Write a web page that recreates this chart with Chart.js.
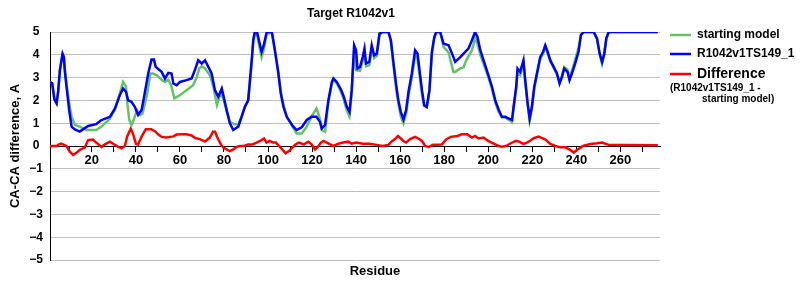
<!DOCTYPE html>
<html>
<head>
<meta charset="utf-8">
<script src="https://cdn.jsdelivr.net/npm/chart.js@4/dist/chart.umd.min.js"></script>
<style>
	body { margin: 0; background: #fff; }
	#wrap { width: 800px; height: 300px; position: relative; }
</style>
</head>
<body>
<div id="wrap"><canvas id="chart"></canvas></div>
<script>
// values
const startRes = [ 1, 2, 3, 4, 4.7, 5.5, 6.7, 7.3, 7.7, 8.5, 9.7, 10.8, 12.3, 14.5, 17.6, 22, 24.4, 28.2, 30.5, 32.7, 34.2, 35.5, 36.2, 37, 38, 39, 40.5, 42, 43, 45, 46.6, 47.8, 49.6, 51.7, 53.2, 54.7, 56, 57.5, 60, 63, 66, 67.6, 68.8, 69.9, 71.4, 73.6, 75.2, 76.8, 78.4, 79.7, 81.2, 82.7, 85, 86.5, 88, 89.5, 91, 91.8, 92.6, 93.3, 94, 95, 96.4, 97.1, 98, 99.4, 101.7, 102.4, 103.6, 104.7, 105.8, 107, 108.5, 110.7, 113, 115.3, 117.6, 119.8, 122, 123.6, 124.4, 125.9, 127.4, 129, 129.7, 131.2, 133, 134.2, 135.7, 137, 138, 139.1, 140, 141.8, 143, 143.8, 144.5, 146, 147.1, 148.2, 149.4, 150.6, 152, 154.7, 155.8, 157, 158.2, 159.2, 160.3, 161.5, 162.7, 163.8, 165.3, 166.8, 167.9, 168.8, 169.9, 170.9, 172.1, 173.3, 174.4, 175.5, 176.4, 178.2, 179.7, 182, 184.2, 185, 187.3, 188.8, 190, 192.6, 194, 195.1, 196.4, 197.9, 200.1, 201.7, 203.2, 204.7, 206.2, 207.7, 209.2, 210.8, 211.5, 212.7, 213.3, 214.5, 216, 216.8, 217.9, 218.8, 219.8, 220.9, 222.1, 223.6, 224.9, 225.9, 227, 228.2, 229.7, 231.2, 232.4, 233.5, 234.5, 236, 236.9, 238, 239.5, 241, 242.1, 243.3, 247.9, 249.4, 250.6, 251.7, 252.7, 253.6, 254.7, 277 ];
const startVal = [ 2.8, 2.75, 2.05, 1.87, 2.38, 3.33, 4.0, 3.9, 3.4, 2.7, 1.9, 1.28, 0.93, 0.85, 0.7, 0.7, 0.85, 1.2, 1.6, 2.3, 2.81, 2.6, 1.8, 1.14, 0.92, 1.14, 1.58, 1.36, 1.43, 2.23, 3.18, 3.18, 3.1, 2.9, 2.81, 2.9, 2.67, 2.09, 2.23, 2.45, 2.67, 3.0, 3.4, 3.5, 3.4, 3.1, 2.6, 1.8, 2.3, 2.1, 1.55, 1.05, 0.95, 0.95, 1.3, 1.72, 2.0, 2.8, 3.7, 4.55, 4.95, 4.9, 4.2, 3.9, 4.2, 4.9, 5, 4.6, 3.9, 3.25, 2.4, 1.8, 1.3, 0.92, 0.55, 0.55, 0.85, 1.3, 1.65, 1.2, 0.7, 0.62, 1.9, 2.75, 2.9, 2.75, 2.4, 2.1, 1.58, 1.3, 2.3, 4.2, 3.33, 3.3, 3.75, 4.1, 3.5, 3.55, 4.3, 3.85, 3.95, 4.85, 5, 5, 4.55, 3.5, 2.5, 1.85, 1.3, 1.0, 1.4, 2.2, 3.0, 3.95, 3.8, 3.1, 2.3, 1.75, 1.7, 2.4, 4.0, 4.7, 5, 5, 4.35, 4.1, 3.25, 3.25, 3.4, 3.45, 3.76, 4.2, 4.71, 4.5, 4.0, 3.6, 3.0, 2.5, 1.9, 1.5, 1.25, 1.25, 1.15, 1.05, 1.6, 2.5, 3.2, 3.1, 3.6, 2.8, 1.8, 1.1, 1.6, 2.5, 3.1, 3.8, 4.05, 4.35, 4.05, 3.7, 3.45, 3.15, 2.8, 3.1, 3.45, 3.35, 3.0, 3.3, 3.8, 4.3, 4.9, 5, 5, 4.71, 4.05, 3.6, 4.0, 4.71, 5, 5 ];

const modelRes = [ 1, 2, 3, 4, 4.7, 5.5, 6.7, 7.3, 7.7, 8.5, 9.7, 10.8, 12.3, 14.5, 16, 18.3, 22, 24.4, 28.2, 30.5, 32.7, 34.2, 35.5, 36.5, 38, 39.5, 41, 42.6, 44, 45.6, 47.1, 48.2, 49, 51.7, 53.2, 54.7, 56.2, 57, 58.5, 60, 63, 65.3, 66.8, 68.3, 69.9, 71.4, 72.9, 74.4, 75.9, 77.4, 79, 79.7, 81.2, 82.7, 84.2, 86.5, 88, 89.5, 91, 91.8, 92.6, 93.3, 94, 95, 96.4, 97.1, 98, 99.4, 101.7, 102.4, 103.6, 104.7, 105.8, 107, 108.5, 110, 111.5, 113, 115.3, 117.6, 119.8, 122, 123.6, 124.4, 125.9, 127.4, 129, 129.7, 131.2, 133, 134.2, 135.8, 137, 138, 139.1, 140, 140.6, 141.8, 143, 143.8, 144.5, 146, 147.1, 148.2, 149.4, 150.6, 152, 154.7, 155.8, 157, 158.2, 159.2, 160.3, 161.5, 162.7, 163.8, 165.3, 166.8, 167.9, 168.8, 169.9, 170.9, 172.1, 173.3, 174.4, 175.5, 176.4, 178.2, 179.7, 182, 184.2, 185, 187.3, 188.8, 191, 192.6, 194, 195.1, 196.4, 197.9, 200.1, 201.7, 203.2, 204.7, 206.2, 207.7, 209.2, 210.8, 211.5, 212.7, 213.3, 214.5, 216, 216.8, 217.9, 218.8, 219.8, 220.9, 222.1, 223.6, 224.9, 225.9, 227, 228.2, 229.7, 231.2, 232.4, 233.5, 234.5, 236, 236.9, 238, 239.5, 241, 242.1, 243.3, 247.9, 249.4, 250.6, 251.7, 252.7, 253.6, 254.7, 277 ];
const modelVal = [ 2.8, 2.75, 2.05, 1.87, 2.38, 3.33, 4.05, 3.9, 3.33, 2.6, 1.58, 0.85, 0.73, 0.63, 0.73, 0.88, 0.96, 1.14, 1.28, 1.65, 2.23, 2.52, 2.38, 2.0, 1.94, 1.72, 1.36, 1.58, 2.3, 3.18, 3.79, 3.79, 3.47, 3.25, 2.96, 3.21, 3.18, 2.74, 2.67, 2.81, 2.89, 2.96, 3.33, 3.76, 3.62, 3.76, 3.47, 3.18, 2.45, 2.16, 2.52, 2.23, 1.58, 0.99, 0.7, 0.85, 1.28, 1.72, 2.0, 2.89, 3.76, 4.64, 5, 5, 4.42, 4.13, 4.4, 5, 5, 4.64, 3.9, 3.18, 2.3, 1.72, 1.28, 1.06, 0.85, 0.7, 0.82, 1.14, 1.28, 1.28, 1.06, 0.77, 0.92, 2.0, 2.81, 2.96, 2.81, 2.5, 2.23, 1.72, 1.5, 2.45, 4.42, 4.2, 3.4, 3.47, 3.9, 4.27, 3.62, 3.69, 4.42, 3.98, 4.05, 4.93, 5, 5, 4.64, 3.62, 2.67, 2.0, 1.5, 1.17, 1.58, 2.38, 3.18, 4.2, 4.05, 3.33, 2.45, 1.8, 1.72, 2.45, 4.13, 4.78, 5, 5, 4.49, 4.42, 3.9, 3.69, 3.9, 4.05, 4.27, 4.64, 5, 4.78, 4.2, 3.76, 3.1, 2.6, 2.0, 1.6, 1.28, 1.28, 1.21, 1.14, 1.72, 2.6, 3.4, 3.25, 3.76, 2.89, 1.87, 1.21, 1.72, 2.6, 3.18, 3.9, 4.13, 4.42, 4.13, 3.76, 3.47, 3.18, 2.74, 3.03, 3.4, 3.25, 2.89, 3.18, 3.62, 4.13, 4.86, 5, 5, 4.71, 4.05, 3.69, 4.05, 4.71, 5, 5 ];

const diffRes = [ 1, 4, 4.7, 6, 8.5, 10, 11.5, 13, 14.5, 16.8, 18.3, 20.5, 22, 24.4, 25.9, 28.2, 29.7, 32, 33.5, 35, 36, 37.7, 38.9, 40, 41, 42.6, 44.5, 47, 48.8, 50.2, 51.7, 54, 57, 58.5, 60.8, 63, 65.3, 67, 69, 71.4, 73.6, 75, 76, 77, 78.6, 79.7, 81.2, 82.7, 84.2, 85.8, 87.2, 89, 91, 93, 94.8, 96.4, 98.2, 99.3, 100.8, 102.3, 103.6, 105, 106.5, 108, 109.5, 111, 112.5, 114, 116.3, 118.3, 119.8, 121.3, 122.4, 124, 125.2, 126.7, 128.2, 129.7, 132, 134, 136.5, 138, 140, 143, 146, 149.4, 152, 154.7, 156, 157.7, 159, 160.3, 161.5, 162.7, 164.5, 166.8, 168.3, 169.9, 171.4, 172.9, 175, 177.5, 179, 181, 183, 186, 188, 190.5, 192.6, 194, 195.6, 197.9, 200, 202.5, 204.7, 206.2, 208, 210.3, 212.5, 214, 216, 217.6, 219, 220.6, 222.9, 226, 228.2, 230.5, 232.7, 235, 237.2, 238.8, 240, 241.5, 243, 246.4, 249.4, 251.7, 255, 263, 277 ];
const diffVal = [ 0, 0, 0.05, 0.1, 0, -0.25, -0.39, -0.3, -0.17, -0.07, 0.26, 0.28, 0.15, -0.04, 0.07, 0.19, 0.1, -0.04, -0.1, 0, 0.41, 0.77, 0.48, 0.1, 0.07, 0.41, 0.74, 0.74, 0.64, 0.5, 0.4, 0.37, 0.42, 0.5, 0.51, 0.51, 0.46, 0.35, 0.3, 0.2, 0.37, 0.63, 0.63, 0.37, 0.07, -0.07, -0.15, -0.22, -0.15, -0.04, 0, 0, 0.07, 0.07, 0.15, 0.22, 0.33, 0.15, 0.22, 0.15, 0.15, 0, -0.15, -0.32, -0.22, -0.07, 0.07, 0.15, 0.07, 0.19, 0.07, -0.15, -0.07, 0.15, 0.22, 0.15, 0.07, 0, 0.1, 0.15, 0.19, 0.1, 0.15, 0.1, 0.1, 0.05, 0, 0.05, 0.19, 0.3, 0.44, 0.33, 0.22, 0.15, 0.3, 0.4, 0.33, 0.22, 0, -0.04, 0.05, 0.05, 0.07, 0.3, 0.4, 0.44, 0.51, 0.51, 0.37, 0.44, 0.33, 0.37, 0.22, 0.1, 0, -0.03, 0, 0.12, 0.23, 0.19, 0.09, 0.15, 0.23, 0.34, 0.41, 0.28, 0.09, 0, -0.06, -0.06, -0.17, -0.29, -0.2, -0.1, 0, 0.09, 0.12, 0.15, 0.04, 0.04, 0.03 ];

const xTicks = [ 10, 20, 30, 40, 50, 60, 70, 80, 90, 100, 110, 120, 130, 140, 150, 160, 170, 180, 190, 200, 210, 220, 230, 240, 250, 260, 270 ];

const FONT = '"Liberation Sans", Arial, sans-serif';

const pts = ( xs, ys ) => xs.map( ( x, i ) => ( { x, y: ys[ i ] } ) );

// title, x axis name and legend drawn on top of the chart
const extras = {
	id: 'extras',
	afterDraw( chart ) {
		const ctx = chart.ctx;
		ctx.save();
		ctx.fillStyle = '#000';
		ctx.textBaseline = 'middle';
		ctx.textAlign = 'center';
		ctx.font = 'bold 12px ' + FONT;
		ctx.fillText( 'Target R1042v1', 351, 14 );
		ctx.font = 'bold 13px ' + FONT;
		ctx.fillText( 'Residue', 375, 271 );

		ctx.textAlign = 'left';
		const items = [
			[ '#66c266', 'starting model', 35 ],
			[ '#0000ff', 'R1042v1TS149_1', 54 ],
			[ '#ff0000', 'Difference', 74 ],
		];
		items.forEach( ( [ color, label, y ] ) => {
			ctx.strokeStyle = color;
			ctx.lineWidth = 2.5;
			ctx.beginPath();
			ctx.moveTo( 670, y );
			ctx.lineTo( 691, y );
			ctx.stroke();
			ctx.fillStyle = '#000';
			ctx.font = ( label === 'Difference' ? 'bold 14px ' : 'bold 12px ' ) + FONT;
			ctx.fillText( label, 697, y );
		} );
		ctx.font = 'bold 10px ' + FONT;
		ctx.fillText( '(R1042v1TS149_1 -', 670, 88 );
		ctx.fillText( 'starting model)', 702, 99 );
		ctx.restore();
	},
};

new Chart( document.getElementById( 'chart' ), {
	type: 'line',
	data: {
		datasets: [
			{
				label: 'R1042v1TS149_1',
				data: pts( modelRes, modelVal ),
				borderColor: '#0000ff',
				borderWidth: 2.5,
			},
			{
				label: 'starting model',
				data: pts( startRes, startVal ),
				borderColor: '#66c266',
				borderWidth: 2.5,
			},
			{
				label: 'Difference',
				data: pts( diffRes, diffVal ),
				borderColor: '#ff0000',
				borderWidth: 2.5,
			},
		],
	},
	options: {
		responsive: true,
		maintainAspectRatio: false,
		animation: false,
		events: [],
		elements: {
			point: { radius: 0 },
			line: { tension: 0 },
		},
		layout: { padding: { left: 0, top: 32, right: 140, bottom: 40 } },
		plugins: {
			legend: { display: false },
			title: { display: false },
			tooltip: { enabled: false },
		},
		scales: {
			x: {
				type: 'linear',
				position: { y: 0 },
				min: 1,
				max: 278,
				afterBuildTicks: ( scale ) => {
					scale.ticks = xTicks.map( ( v ) => ( { value: v } ) );
				},
				grid: {
					drawOnChartArea: false,
					drawTicks: true,
					tickLength: 5,
					color: '#000',
				},
				border: { color: '#000', width: 1 },
				ticks: {
					autoSkip: false,
					maxRotation: 0,
					padding: 2,
					color: '#000',
					font: { family: FONT, size: 13, weight: 'bold' },
					callback: ( v ) => ( v % 20 === 0 ? String( v ) : '' ),
				},
			},
			y: {
				min: -5,
				max: 5,
				afterFit: ( scale ) => {
					scale.width = 50;
				},
				grid: { color: '#c0c0c0', drawTicks: false },
				border: { color: '#000', width: 1 },
				ticks: {
					stepSize: 1,
					padding: 7,
					crossAlign: 'center',
					color: '#000',
					font: { family: FONT, size: 12, weight: 'bold' },
					callback: ( v ) => ( v < 0 ? '\u2212' + Math.abs( v ) : String( v ) ),
				},
				title: {
					display: true,
					text: 'CA-CA difference, A',
					color: '#000',
					padding: { top: 8, bottom: 0 },
					font: { family: FONT, size: 13, weight: 'bold' },
				},
			},
		},
	},
	plugins: [ extras ],
} );
</script>
</body>
</html>
